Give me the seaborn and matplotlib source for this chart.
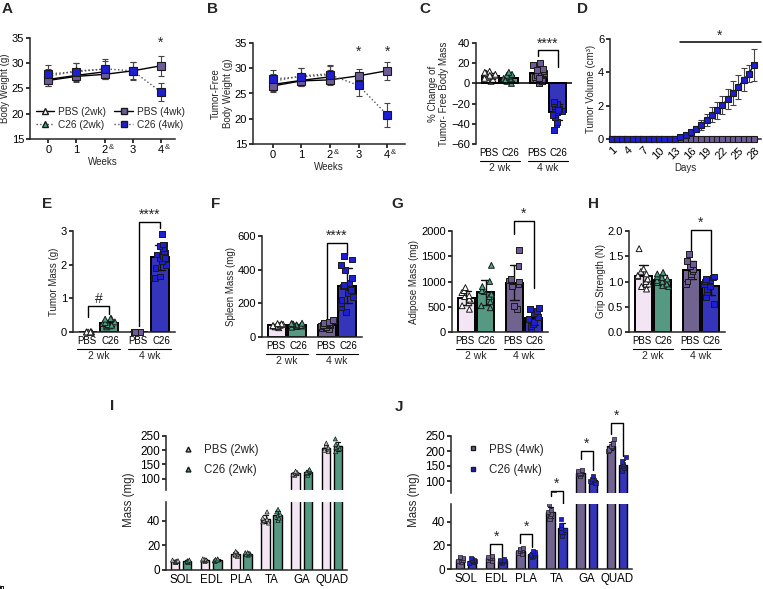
import warnings
import numpy as np
import pandas as pd
import seaborn as sns
import matplotlib.pyplot as plt
from matplotlib.lines import Line2D
from matplotlib.ticker import FormatStrFormatter
from matplotlib.transforms import blended_transform_factory

warnings.filterwarnings("ignore")
np.random.seed(3)  # only for the horizontal jitter of the dots

# colours
PINK = "#F5E2F7"
TEAL = "#4AA487"
PURPLE = "#6D5B98"
BLUE = "#1E1ED2"
EDGE = "#1A1A1A"

# A / B : weekly body weight (mean, sd)
weeks = [0, 1, 2, 3, 4]
week_labels = ["0", "1", "2", "3", "4"]
amp_weeks = [2, 4]
bw_pbs2 = [26.8, 27.6, 28.3]
bw_pbs2_sd = [1.3, 1.2, 1.3]
bw_c26_2 = [27.4, 28.5, 28.8]
bw_c26_2_sd = [1.5, 1.5, 1.6]
bw_pbs4 = [26.6, 27.4, 27.8, 28.5, 29.5]
bw_pbs4_sd = [1.2, 1.1, 1.0, 1.7, 2.0]
bw_c26_4 = [27.9, 28.3, 28.9, 28.5, 24.3]
bw_c26_4_sd = [1.8, 1.7, 2.0, 1.8, 1.8]

tf_pbs2 = [26.8, 27.6, 28.3]
tf_pbs2_sd = [1.3, 1.2, 1.3]
tf_c26_2 = [27.4, 28.5, 28.9]
tf_c26_2_sd = [1.5, 1.5, 1.6]
tf_pbs4 = [26.5, 27.5, 27.7, 28.5, 29.5]
tf_pbs4_sd = [1.2, 1.1, 1.0, 1.4, 1.8]
tf_c26_4 = [27.9, 28.3, 28.7, 26.6, 20.8]
tf_c26_4_sd = [1.8, 1.7, 1.9, 2.0, 2.4]

# D : tumor volume by day
days = list(range(1, 29))
day_ticks = [1, 4, 7, 10, 13, 16, 19, 22, 25, 28]
vol_pbs = [0, 0, 0, 0, 0, 0, 0, 0, 0, 0, 0, 0, 0, 0,
           0, 0, 0, 0, 0, 0, 0, 0, 0, 0, 0, 0, 0, 0]
vol_c26 = [0, 0, 0, 0, 0, 0, 0, 0, 0, 0, 0, 0, 0, 0.10,
           0.26, 0.40, 0.60, 0.86, 1.16, 1.46, 1.72, 2.04, 2.40, 2.76, 3.12, 3.56, 3.92, 4.46]
vol_c26_sd = [0, 0, 0, 0, 0, 0, 0, 0, 0, 0, 0, 0, 0, 0.05,
              0.10, 0.15, 0.20, 0.30, 0.35, 0.45, 0.50, 0.55, 0.60, 0.70, 0.70, 0.70, 0.50, 0.95]

# C, E-H : individual animals
chg_pbs2 = [2, 4, 6, 7, 8, 9, 10, 10, 11, 12, 5, 8]
chg_c26_2 = [0, 2, 3, 4, 5, 5, 6, 7, 8, 9, 11, 3]
chg_pbs4 = [0, 2, 4, 6, 8, 9, 10, 11, 12, 14, 16, 18, 20, 5, 13]
chg_c26_4 = [-46, -40, -38, -33, -30, -28, -27, -25, -24, -22, -20, -19, -18, -26, -31]

tum_pbs2 = [0, 0, 0, 0, 0, 0, 0, 0]
tum_c26_2 = [0.15, 0.18, 0.20, 0.22, 0.25, 0.28, 0.30, 0.38, 0.40, 0.40, 0.20]
tum_pbs4 = [0, 0, 0, 0, 0, 0]
tum_c26_4 = [1.6, 1.6, 1.65, 1.9, 2.0, 2.1, 2.2, 2.25, 2.3, 2.35, 2.4, 2.5, 2.55, 2.6, 2.6, 2.9, 2.2]

spl_pbs2 = [55, 60, 62, 65, 68, 70, 72, 75, 78, 80]
spl_c26_2 = [58, 62, 65, 68, 70, 72, 75, 78, 80, 82]
spl_pbs4 = [50, 55, 60, 65, 70, 72, 75, 80, 85, 90, 100]
spl_c26_4 = [150, 180, 200, 220, 240, 260, 280, 300, 310, 320, 350, 400, 430, 460, 480]

adi_pbs2 = [450, 520, 580, 620, 650, 700, 720, 780, 820, 880]
adi_c26_2 = [480, 520, 600, 700, 750, 800, 820, 900, 1000, 1320]
adi_pbs4 = [460, 520, 900, 950, 1000, 1020, 1050, 1300, 1620]
adi_c26_4 = [80, 120, 150, 200, 250, 300, 380, 420, 450, 470]

grip_pbs2 = [0.85, 0.90, 0.95, 1.00, 1.05, 1.10, 1.12, 1.15, 1.20, 1.25, 1.65]
grip_c26_2 = [0.90, 0.92, 0.95, 0.98, 1.00, 1.02, 1.05, 1.08, 1.10, 1.15, 1.18]
grip_pbs4 = [0.95, 1.00, 1.10, 1.15, 1.20, 1.25, 1.30, 1.35, 1.40, 1.55]
grip_c26_4 = [0.55, 0.70, 0.80, 0.85, 0.90, 0.95, 1.00, 1.02, 1.05, 1.08, 1.10]

# I / J : muscle masses
muscles = ["SOL", "EDL", "PLA", "TA", "GA", "QUAD"]
mus_pbs2 = {"SOL": [6, 6.5, 7, 7, 7.5, 8], "EDL": [7, 7.5, 8, 8, 8.5, 9],
            "PLA": [11, 12, 13, 13, 14, 15], "TA": [38, 39, 40, 41, 42, 47],
            "GA": [112, 115, 118, 120, 122, 126], "QUAD": [195, 200, 205, 210, 215, 225]}
mus_c26_2 = {"SOL": [6, 6.5, 7, 7.5, 7, 8], "EDL": [7, 7.5, 8, 8.5, 8, 9],
             "PLA": [12, 12.5, 13, 13.5, 14, 14], "TA": [40, 42, 44, 45, 47, 49],
             "GA": [112, 118, 122, 125, 128, 132], "QUAD": [195, 205, 210, 215, 220, 240]}
mus_pbs4 = {"SOL": [6, 7, 7.5, 8, 9, 10], "EDL": [7, 8, 9, 9.5, 10, 11],
            "PLA": [13, 14, 15, 16, 17, 18], "TA": [42, 45, 47, 48, 50, 55],
            "GA": [118, 122, 125, 128, 132, 138], "QUAD": [200, 205, 212, 218, 225, 240]}
mus_c26_4 = {"SOL": [5, 6, 7, 7.5, 8, 9], "EDL": [5.5, 6, 6.5, 7, 7.5, 8],
             "PLA": [10, 11, 12, 13, 14, 15], "TA": [28, 31, 33, 35, 37, 42],
             "GA": [92, 96, 100, 104, 108, 118], "QUAD": [135, 142, 150, 158, 165, 180]}

sns.set_theme(style="ticks")
plt.rcParams['font.family'] = ['Liberation Sans', 'DejaVu Sans']
plt.rcParams['font.size'] = 7
plt.rcParams['axes.linewidth'] = 1.1
plt.rcParams['xtick.major.width'] = 1.1
plt.rcParams['ytick.major.width'] = 1.1
plt.rcParams['xtick.major.size'] = 3
plt.rcParams['ytick.major.size'] = 3
plt.rcParams['xtick.major.pad'] = 1.5
plt.rcParams['ytick.major.pad'] = 1.2
plt.rcParams['xtick.labelsize'] = 8
plt.rcParams['ytick.labelsize'] = 8
plt.rcParams['axes.labelsize'] = 7
plt.rcParams['axes.labelpad'] = 1.5

W, H = 763, 589
fig = plt.figure(figsize=(W / 100, H / 100), dpi=100)


def box(x0, y0, x1, y1):
    return [x0 / W, 1 - y1 / H, (x1 - x0) / W, (y1 - y0) / H]


def panel_label(x, y, s):
    fig.text(x / W, 1 - y / H, s, ha="left", va="top", fontsize=11, fontweight="bold")


def style(ax):
    sns.despine(ax=ax)
    ax.tick_params(direction="out", colors="black", labelcolor="black")


def draw_line(ax, x, y, sd, face, marker, ls, ms=5.5, lc="black"):
    if sd is not None:
        ax.errorbar(x, y, yerr=sd, fmt="none", ecolor="#444444", elinewidth=0.8,
                    capsize=2.5, capthick=0.8, zorder=2)
    sns.lineplot(x=x, y=y, ax=ax, color=lc, linestyle=ls, linewidth=1.0,
                 marker=marker, markersize=ms, markerfacecolor=face,
                 markeredgecolor=EDGE, markeredgewidth=0.8, zorder=3, clip_on=False)


def amp_marks(ax):
    for w in amp_weeks:
        ax.annotate("&", xy=(w, 0), xycoords=("data", "axes fraction"), xytext=(2.8, -3.5),
                    textcoords="offset points", fontsize=5.5, ha="left", va="top")


def star(ax, x, y, s, size=10):
    ax.annotate(s, (x, y), xytext=(0, 0), textcoords="offset points", ha="center",
                va="bottom", fontsize=size, annotation_clip=False)


def bracket(ax, x1, x2, y, y1, y2, s):
    ax.plot([x1, x1, x2, x2], [y1, y, y, y2], color="black", lw=1.0, clip_on=False)
    star(ax, (x1 + x2) / 2, y, s)


def weight_panel(ax, pbs2, pbs2_sd, c26_2, c26_2_sd, pbs4, pbs4_sd, c26_4, c26_4_sd, xlim):
    draw_line(ax, weeks[:3], pbs2, pbs2_sd, "white", "^", "-")
    draw_line(ax, weeks[:3], c26_2, c26_2_sd, TEAL, "^", ":", lc="#555555")
    draw_line(ax, weeks, pbs4, pbs4_sd, PURPLE, "s", "-")
    draw_line(ax, weeks, c26_4, c26_4_sd, BLUE, "s", ":", lc="#555555")
    ax.set(xlim=xlim, ylim=(15, 35), xticks=weeks, yticks=[15, 20, 25, 30, 35])
    ax.set_xticklabels(week_labels)
    amp_marks(ax)
    ax.set_xlabel("Weeks")
    style(ax)


# ---------------- A
axA = fig.add_axes(box(30, 38, 175, 139))
weight_panel(axA, bw_pbs2, bw_pbs2_sd, bw_c26_2, bw_c26_2_sd, bw_pbs4, bw_pbs4_sd,
             bw_c26_4, bw_c26_4_sd, (-0.65, 4.5))
axA.set_ylabel("Body Weight (g)")
star(axA, 4, 32.6, "*")
handles = [
    Line2D([0], [0], color="black", ls="-", marker="^", mfc="white", mec=EDGE, ms=5, lw=1),
    Line2D([0], [0], color="#555555", ls=":", marker="^", mfc=TEAL, mec=EDGE, ms=5, lw=1),
    Line2D([0], [0], color="black", ls="-", marker="s", mfc=PURPLE, mec=EDGE, ms=5, lw=1),
    Line2D([0], [0], color="#555555", ls=":", marker="s", mfc=BLUE, mec=EDGE, ms=5, lw=1),
]
axA.legend(handles, ["PBS (2wk)", "C26 (2wk)", "PBS (4wk)", "C26 (4wk)"], ncol=2,
           loc="lower left", bbox_to_anchor=(0.0, 0.03), frameon=False, fontsize=7.3,
           handlelength=1.8, columnspacing=0.8, handletextpad=0.4, labelspacing=0.3,
           borderaxespad=0.2)

# ---------------- B
axB = fig.add_axes(box(253, 43, 405, 144))
weight_panel(axB, tf_pbs2, tf_pbs2_sd, tf_c26_2, tf_c26_2_sd, tf_pbs4, tf_pbs4_sd,
             tf_c26_4, tf_c26_4_sd, (-0.7, 4.63))
axB.set_ylabel("Tumor-Free\nBody Weight (g)")
star(axB, 3, 31.8, "*")
star(axB, 4, 31.8, "*")


# ---------------- bar panels
def bar_panel(ax, pbs2, c26_2, pbs4, c26_4, ylim, yticks, ylabel, zero_line=False):
    order = ["2 wk", "4 wk"]
    arms = ["PBS", "C26"]
    df2 = pd.DataFrame({"week": "2 wk", "arm": ["PBS"] * len(pbs2) + ["C26"] * len(c26_2),
                        "val": pbs2 + c26_2})
    df4 = pd.DataFrame({"week": "4 wk", "arm": ["PBS"] * len(pbs4) + ["C26"] * len(c26_4),
                        "val": pbs4 + c26_4})
    sets = [(df2, {"PBS": PINK, "C26": TEAL}, {"PBS": "white", "C26": TEAL}, "^"),
            (df4, {"PBS": PURPLE, "C26": BLUE}, {"PBS": PURPLE, "C26": BLUE}, "s")]
    for df, bar_pal, pt_pal, mk in sets:
        sns.barplot(data=df, x="week", y="val", hue="arm", order=order, hue_order=arms,
                    palette=bar_pal, width=0.8, gap=0.1, errorbar="sd", capsize=0.4,
                    err_kws={"color": "#111111", "linewidth": 1.0}, edgecolor="black",
                    linewidth=1.4, legend=False, ax=ax)
    for df, bar_pal, pt_pal, mk in sets:
        sns.stripplot(data=df, x="week", y="val", hue="arm", order=order, hue_order=arms,
                      palette=pt_pal, dodge=True, jitter=0.26, marker=mk, size=4.2,
                      edgecolor=EDGE, linewidth=0.7, legend=False, ax=ax, clip_on=False,
                      zorder=4)
    ax.set_xlim(-0.5, 1.5)
    ax.set_ylim(*ylim)
    ax.set_yticks(yticks)
    ax.set_xticks([-0.225, 0.225, 0.775, 1.225])
    ax.set_xticklabels(["PBS", "C26", "PBS", "C26"], fontsize=7)
    ax.tick_params(axis="x", length=0, pad=3)
    ax.set_xlabel("")
    ax.set_ylabel(ylabel)
    style(ax)
    if zero_line:
        ax.spines["bottom"].set_visible(False)
        ax.axhline(0, color="black", lw=1.1, zorder=5)
    trans = blended_transform_factory(ax.transData, ax.transAxes)
    for c, lab in [(0, "2 wk"), (1, "4 wk")]:
        ax.plot([c - 0.42, c + 0.42], [-0.168, -0.168], transform=trans, color="black",
                lw=0.8, clip_on=False)
        ax.text(c, -0.19, lab, transform=trans, ha="center", va="top", fontsize=7.5)


# ---------------- C
axC = fig.add_axes(box(476, 43, 572, 144))
bar_panel(axC, chg_pbs2, chg_c26_2, chg_pbs4, chg_c26_4, (-60, 40),
          [-60, -40, -20, 0, 20, 40], "% Change of\nTumor- Free Body Mass", zero_line=True)
bracket(axC, 0.8, 1.2, 32.7, 26.7, 16.7, "****")

# ---------------- D
axD = fig.add_axes(box(610, 39, 761, 139))
draw_line(axD, days, vol_pbs, None, PURPLE, "s", "-", ms=4.2)
draw_line(axD, days, vol_c26, vol_c26_sd, BLUE, "s", "-", ms=4.2)
axD.set(xlim=(0.7, 29.3), ylim=(0, 6), yticks=[0, 2, 4, 6], xticks=day_ticks)
axD.set_xticklabels([str(d) for d in day_ticks], rotation=45, ha="right",
                    rotation_mode="anchor")
axD.set_xlabel("Days")
axD.set_ylabel("Tumor Volume (cm³)")
axD.plot([13.9, 29.3], [5.82, 5.82], color="black", lw=1.1, clip_on=False)
star(axD, 21.5, 5.75, "*")
style(axD)

# ---------------- E-H
axE = fig.add_axes(box(73, 231, 175, 332))
bar_panel(axE, tum_pbs2, tum_c26_2, tum_pbs4, tum_c26_4, (0, 3), [0, 1, 2, 3], "Tumor Mass (g)")
bracket(axE, -0.2, 0.2, 0.78, 0.45, 0.53, "#")
bracket(axE, 0.8, 1.2, 3.26, 0.17, 3.09, "****")

axF = fig.add_axes(box(262, 236, 362, 337))
bar_panel(axF, spl_pbs2, spl_c26_2, spl_pbs4, spl_c26_4, (0, 600), [0, 200, 400, 600],
          "Spleen Mass (mg)")
bracket(axF, 0.8, 1.2, 557, 108, 490, "****")

axG = fig.add_axes(box(452, 231, 548, 332))
bar_panel(axG, adi_pbs2, adi_c26_2, adi_pbs4, adi_c26_4, (0, 2000),
          [0, 500, 1000, 1500, 2000], "Adipose Mass (mg)")
bracket(axG, 0.8, 1.2, 2200, 1950, 870, "*")

axH = fig.add_axes(box(629, 231, 725, 332))
bar_panel(axH, grip_pbs2, grip_c26_2, grip_pbs4, grip_c26_4, (0, 2.0),
          [0, 0.5, 1.0, 1.5, 2.0], "Grip Strength (N)")
axH.yaxis.set_major_formatter(FormatStrFormatter("%.1f"))
bracket(axH, 0.8, 1.2, 2.02, 1.62, 1.1, "*")


# ---------------- I / J broken axis
def muscle_panel(ax_top, ax_bot, pbs, c26, bar_pal, pt_pal, mk, labels):
    rows = []
    for m in muscles:
        rows += [(m, "PBS", v) for v in pbs[m]]
        rows += [(m, "C26", v) for v in c26[m]]
    df = pd.DataFrame(rows, columns=["muscle", "arm", "val"])
    for ax in (ax_top, ax_bot):
        sns.barplot(data=df, x="muscle", y="val", hue="arm", order=muscles,
                    hue_order=["PBS", "C26"], palette=bar_pal, width=0.8, gap=0.3,
                    errorbar="sd", capsize=0.3, err_kws={"color": "#111111", "linewidth": 0.9},
                    edgecolor="black", linewidth=1.0, legend=False, ax=ax)
        sns.stripplot(data=df, x="muscle", y="val", hue="arm", order=muscles,
                      hue_order=["PBS", "C26"], palette=pt_pal, dodge=True, jitter=0.2,
                      marker=mk, size=3.0, edgecolor=EDGE, linewidth=0.5, legend=False,
                      ax=ax, zorder=4)
        ax.set_xlabel("")
        ax.set_ylabel("")
        ax.set_xlim(-0.5, 5.5)
        style(ax)
    ax_top.set_ylim(60, 250)
    ax_top.set_yticks([100, 150, 200, 250])
    ax_top.spines["bottom"].set_visible(False)
    ax_top.tick_params(axis="x", bottom=False, labelbottom=False)
    ax_bot.set_ylim(0, 55)
    ax_bot.set_yticks([0, 20, 40])
    ax_bot.tick_params(axis="x", length=0, labelsize=8.3, pad=3)
    for ax in (ax_top, ax_bot):
        ax.tick_params(axis="y", labelsize=8.5)
    handles = [Line2D([0], [0], ls="none", marker=mk, mfc=pt_pal["PBS"], mec=EDGE, ms=3.5),
               Line2D([0], [0], ls="none", marker=mk, mfc=pt_pal["C26"], mec=EDGE, ms=3.5)]
    ax_top.legend(handles, labels, loc="upper left", bbox_to_anchor=(0.03, 1.05),
                  frameon=False, fontsize=8.3, handlelength=1.0, handletextpad=0.9,
                  labelspacing=0.7)


axI_top = fig.add_axes(box(166, 436, 347, 490))
axI_bot = fig.add_axes(box(166, 502, 347, 570))
muscle_panel(axI_top, axI_bot, mus_pbs2, mus_c26_2, {"PBS": PINK, "C26": TEAL},
             {"PBS": "#BBBBBB", "C26": TEAL}, "^", ["PBS (2wk)", "C26 (2wk)"])

axJ_top = fig.add_axes(box(451, 436, 632, 493))
axJ_bot = fig.add_axes(box(451, 504, 632, 569))
muscle_panel(axJ_top, axJ_bot, mus_pbs4, mus_c26_4, {"PBS": PURPLE, "C26": BLUE},
             {"PBS": PURPLE, "C26": BLUE}, "s", ["PBS (4wk)", "C26 (4wk)"])
bracket(axJ_bot, 0.8, 1.2, 21, 13, 10, "*")
bracket(axJ_bot, 1.8, 2.2, 29.6, 22, 19, "*")
bracket(axJ_top, 2.8, 3.2, 66, 48.5, 16, "*")
bracket(axJ_top, 3.8, 4.2, 201, 172, 136, "*")
bracket(axJ_top, 4.8, 5.2, 295, 257, 183, "*")

fig.text(129 / W, 1 - 500 / H, "Mass (mg)", rotation=90, ha="center", va="center", fontsize=8.3)
fig.text(414 / W, 1 - 500 / H, "Mass (mg)", rotation=90, ha="center", va="center", fontsize=8.3)

# panel letters
panel_label(2, 2, "A")
panel_label(207, 2, "B")
panel_label(419, 2, "C")
panel_label(577, 2, "D")
panel_label(42, 197, "E")
panel_label(211, 197, "F")
panel_label(391, 197, "G")
panel_label(588, 197, "H")
panel_label(110, 399, "I")
panel_label(395, 400, "J")

fig.savefig("out.png", dpi=100)
